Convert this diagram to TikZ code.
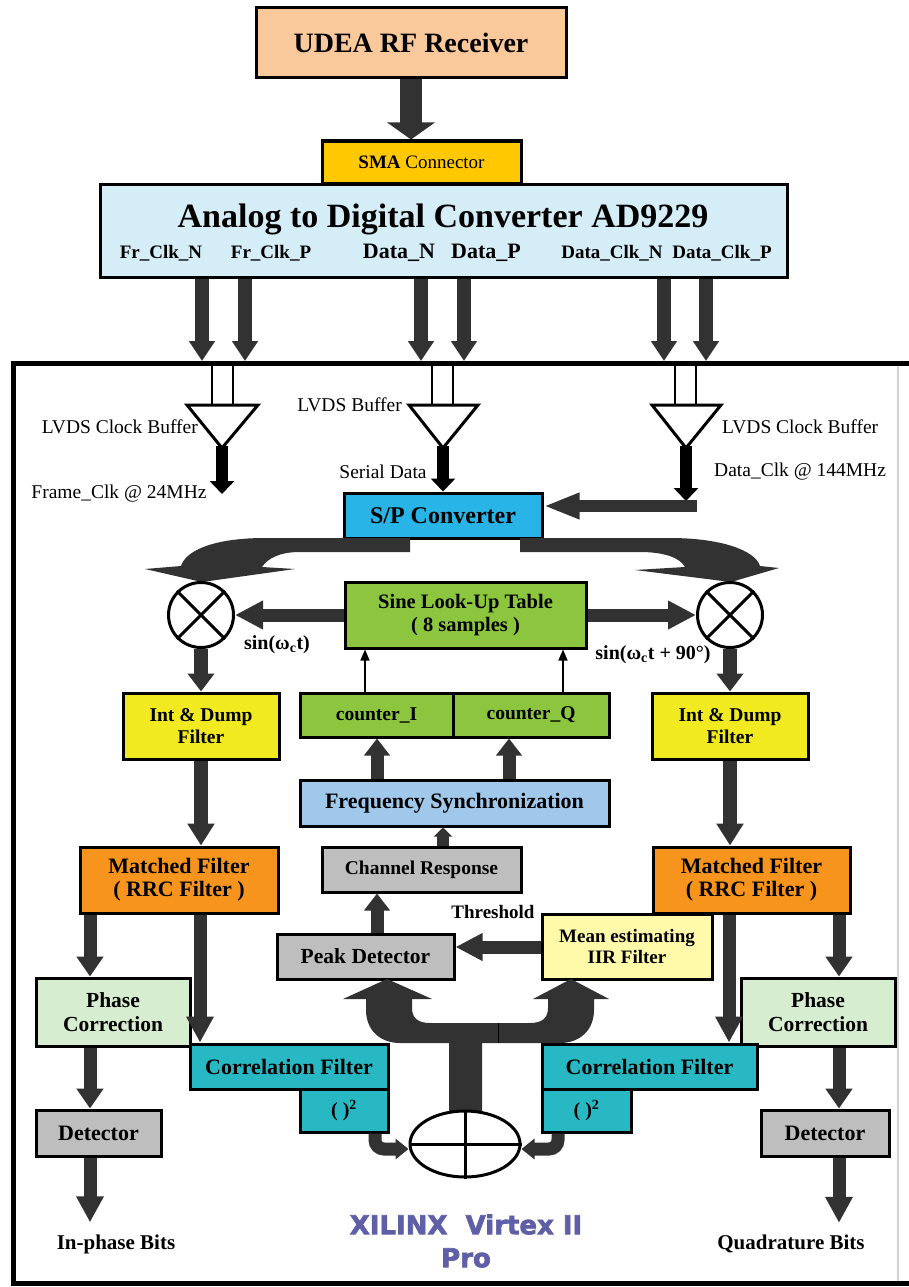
\documentclass[tikz,border=0pt]{standalone}
\usepackage{fontspec}
\setmainfont{Liberation Serif}
\newfontfamily\xfont[FakeBold=2.5]{DejaVu Sans Bold}
\usetikzlibrary{arrows.meta,shapes.geometric,calc}
\definecolor{ag}{RGB}{50,50,50}
\definecolor{cUdea}{RGB}{250,201,155}
\definecolor{cSma}{RGB}{255,200,0}
\definecolor{cAdc}{RGB}{212,237,247}
\definecolor{cSp}{RGB}{40,180,230}
\definecolor{cLut}{RGB}{140,198,63}
\definecolor{cId}{RGB}{242,234,33}
\definecolor{cFs}{RGB}{160,200,235}
\definecolor{cGray}{RGB}{190,190,190}
\definecolor{cMf}{RGB}{247,148,29}
\definecolor{cMean}{RGB}{255,250,170}
\definecolor{cPc}{RGB}{215,237,208}
\definecolor{cCor}{RGB}{40,184,196}
\definecolor{cXil}{RGB}{95,95,168}
\newcommand{\fsz}[1]{\fontsize{#1}{#1}\selectfont}
\tikzset{
  box/.style={draw=black, line width=3pt, inner sep=0pt, align=center},
  fat/.style n args={3}{draw=ag, line width=#1, -{Triangle[width=#2,length=#3]}},
  blk/.style n args={3}{draw=black, line width=#1, -{Triangle[width=#2,length=#3]}},
  thinarr/.style={draw=black, line width=1.5pt, -{Triangle[width=9pt,length=11pt]}},
  lbl/.style={inner sep=0pt, font=\fsz{19.5}},
  blbl/.style={inner sep=0pt, font=\bfseries\fsz{19.5}},
  pinlbl/.style={inner sep=0pt, font=\bfseries\fsz{19}},
}
\begin{document}
\begin{tikzpicture}[x=1pt,y=-1pt]
\useasboundingbox (0,0) rectangle (909,1287);
\fill[white] (0,0) rectangle (909,1287);

% FPGA frame
\draw[gray!35, line width=1.5pt] (898,363) -- (898,1283);
\draw[line width=5pt] (915,363) -- (13,363) -- (13,1283) -- (915,1283);
\coordinate (ftop) at (0,361);

% top chain
\node[box, fill=cUdea, minimum width=310pt, minimum height=70pt, font=\bfseries\fsz{28}] (udea) at (411,43) {UDEA RF Receiver};
\node[box, fill=cSma, minimum width=199pt, minimum height=42pt, font=\fsz{19}] (sma) at (421.5,162) {\textbf{SMA} Connector};
\node[box, fill=cAdc, minimum width=687pt, minimum height=93pt] (adc) at (443.5,230.5) {};
\node[inner sep=0pt, font=\bfseries\fsz{34}] (adct) at (443,219) {Analog to Digital Converter AD9229};
\node[pinlbl] (p1) at (161,253) {Fr\_Clk\_N};
\node[pinlbl] (p2) at (271,253) {Fr\_Clk\_P};
\node[pinlbl, font=\bfseries\fsz{22}] (p3) at (399,253) {Data\_N};
\node[pinlbl, font=\bfseries\fsz{22}] (p4) at (486,253) {Data\_P};
\node[pinlbl] (p5) at (612,253) {Data\_Clk\_N};
\node[pinlbl] (p6) at (722,253) {Data\_Clk\_P};
\draw[fat={22pt}{47pt}{17pt}] (udea.south) -- (udea.south |- sma.north);

\foreach \n/\x in {1/202,2/245,3/421,4/464,5/664,6/706}{
  \coordinate (a\n) at (\x,0);
  \draw[fat={14pt}{25pt}{20pt}] (adc.south -| a\n) -- (a\n |- ftop);
}

% LVDS buffers
\foreach \x in {212,233,432,453,675,696}{
  \draw[line width=2pt] (\x,363) -- (\x,405);
}
\draw[line width=3pt, fill=white] (187,405) -- (258,405) -- (222,448) -- cycle;
\draw[line width=3pt, fill=white] (409,405) -- (478,405) -- (443,448) -- cycle;
\draw[line width=3pt, fill=white] (652,405) -- (721,405) -- (686,448) -- cycle;
\coordinate (bL) at (222,446);
\coordinate (bM) at (443,446);
\coordinate (bR) at (686,446);
\coordinate (fclk) at (222,494);
\coordinate (bRend) at (686,501);
\coordinate (barR) at (697,506);

\node[lbl, anchor=east] (lcb) at (198,427) {LVDS Clock Buffer};
\node[lbl] (fcl) at (119,494) {Frame\_Clk @ 24MHz};
\node[lbl, anchor=east] (lb) at (402,405) {LVDS Buffer};
\node[lbl] (sd) at (383,472) {Serial Data};
\node[lbl, anchor=west] (rcb) at (722,427) {LVDS Clock Buffer};
\node[lbl, anchor=west] (dcl) at (714,472) {Data\_Clk @ 144MHz};

% S/P
\node[box, fill=cSp, minimum width=198pt, minimum height=45pt, font=\bfseries\fsz{24}] (sp) at (443,515.5) {S/P Converter};
\draw[blk={12pt}{24pt}{13pt}] (bL) -- (fclk);
\draw[blk={12pt}{24pt}{13pt}] (bM) -- (bM |- sp.north);
\draw[blk={12pt}{24pt}{13pt}] (bR) -- (bRend);
\draw[fat={12pt}{24pt}{36pt}] (barR) -- (barR -| sp.east);

% swoosh arrows from S/P to mixers
\fill[ag] (410,538) -- (265,538) .. controls (215,538) and (186,550) .. (181,566)
   -- (145,569) -- (202,582) -- (295,569) -- (262,567)
   .. controls (268,558) and (280,552) .. (300,552) -- (410,552) -- cycle;
\fill[ag] (520,538) -- (670,538) .. controls (720,538) and (755,550) .. (760,566)
   -- (779,568) -- (731,582) -- (635,570) -- (685,567)
   .. controls (680,558) and (665,552) .. (640,552) -- (520,552) -- cycle;

% mixers and LUT
\node[box, fill=cLut, minimum width=241pt, minimum height=66pt, font=\bfseries\fsz{20.5}] (lut) at (465.5,615) {Sine Look-Up Table\\[3pt]( 8 samples )};
\node[circle, draw, line width=3pt, fill=white, minimum size=65pt, inner sep=0pt] (mixL) at (201,615) {};
\node[circle, draw, line width=3pt, fill=white, minimum size=65pt, inner sep=0pt] (mixR) at (730,615) {};
\draw[line width=3pt] (mixL.north west) -- (mixL.south east) (mixL.north east) -- (mixL.south west);
\draw[line width=3pt] (mixR.north west) -- (mixR.south east) (mixR.north east) -- (mixR.south west);
\draw[fat={13pt}{27pt}{28pt}] (lut.west) -- (mixL.east);
\draw[fat={13pt}{27pt}{28pt}] (lut.east) -- (mixR.west);
\node[blbl, font=\bfseries\fsz{20}] (sinL) at (277,645) {sin(ω\textsubscript{c}t)};
\node[blbl, font=\bfseries\fsz{20}] (sinR) at (653,655) {sin(ω\textsubscript{c}t + 90°)};

% counters, freq sync
\node[box, fill=cLut, minimum width=153pt, minimum height=44pt, font=\bfseries\fsz{19.5}] (cntI) at (376.5,715) {counter\_I};
\node[box, fill=cLut, minimum width=156pt, minimum height=44pt, font=\bfseries\fsz{19.5}] (cntQ) at (531,715) {counter\_Q};
\coordinate (t1) at (365,0);
\coordinate (t2) at (563,0);
\draw[thinarr] (cntI.north -| t1) -- (t1 |- lut.south);
\draw[thinarr] (cntQ.north -| t2) -- (t2 |- lut.south);
\node[box, fill=cFs, minimum width=309pt, minimum height=46pt, font=\bfseries\fsz{22}] (fs) at (454.5,803) {Frequency Synchronization};
\coordinate (f1) at (377,0);
\coordinate (f2) at (509,0);
\draw[fat={13pt}{25pt}{17pt}] (fs.north -| f1) -- (f1 |- cntI.south);
\draw[fat={13pt}{25pt}{17pt}] (fs.north -| f2) -- (f2 |- cntQ.south);
\node[box, fill=cGray, minimum width=199pt, minimum height=45pt, font=\bfseries\fsz{19.5}] (chan) at (421.5,869.5) {Channel Response};
\coordinate (c1) at (443,0);
\draw[fat={12pt}{18pt}{9pt}] (chan.north -| c1) -- (c1 |- fs.south);

% Int & Dump, matched filters
\node[box, fill=cId, minimum width=156pt, minimum height=66pt, font=\bfseries\fsz{19.5}] (idL) at (201,726) {Int \& Dump\\[2pt]Filter};
\node[box, fill=cId, minimum width=156pt, minimum height=66pt, font=\bfseries\fsz{19.5}] (idR) at (730,726) {Int \& Dump\\[2pt]Filter};
\draw[fat={14pt}{26pt}{18pt}] (mixL.south) -- (idL.north);
\draw[fat={14pt}{26pt}{18pt}] (mixR.south) -- (idR.north);
\node[box, fill=cMf, minimum width=198pt, minimum height=66pt, font=\bfseries\fsz{22}] (mfL) at (179,880) {Matched Filter\\[1pt]( RRC Filter )};
\node[box, fill=cMf, minimum width=197pt, minimum height=66pt, font=\bfseries\fsz{22}] (mfR) at (751.5,880) {Matched Filter\\[1pt]( RRC Filter )};
\draw[fat={14pt}{26pt}{22pt}] (idL.south) -- (idL.south |- mfL.north);
\draw[fat={14pt}{26pt}{22pt}] (idR.south) -- (idR.south |- mfR.north);

% peak / mean
\node[blbl, font=\bfseries\fsz{19}] (thr) at (493,912) {Threshold};
\node[box, fill=cMean, minimum width=170pt, minimum height=65pt, font=\bfseries\fsz{19}] (mean) at (627,946.5) {Mean estimating\\[2pt]IIR Filter};
\node[box, fill=cGray, minimum width=177pt, minimum height=45pt, font=\bfseries\fsz{21.5}] (peak) at (365.5,956.5) {Peak Detector};
\coordinate (k1) at (377,0);
\draw[fat={13pt}{25pt}{17pt}] (peak.north -| k1) -- (k1 |- chan.south);
\coordinate (m1) at (0,947);
\draw[fat={13pt}{26pt}{27pt}] (mean.west |- m1) -- (peak.east |- m1);

% phase correction, correlation, detectors
\node[box, fill=cPc, minimum width=154pt, minimum height=68pt, font=\bfseries\fsz{21.5}] (pcL) at (113,1012) {Phase\\[2pt]Correction};
\node[box, fill=cPc, minimum width=154pt, minimum height=68pt, font=\bfseries\fsz{21.5}] (pcR) at (818,1012) {Phase\\[2pt]Correction};
\node[box, fill=cCor, minimum width=198pt, minimum height=45pt, font=\bfseries\fsz{22}] (corL) at (289,1066.5) {Correlation Filter};
\node[box, fill=cCor, minimum width=215pt, minimum height=45pt, font=\bfseries\fsz{22}] (corR) at (649.5,1066.5) {Correlation Filter};
\node[box, fill=cCor, minimum width=88pt, minimum height=43pt, font=\bfseries\fsz{20}] (sqL) at (344,1110.5) {(\ )\textsuperscript{2}};
\node[box, fill=cCor, minimum width=89pt, minimum height=43pt, font=\bfseries\fsz{20}] (sqR) at (586.5,1110.5) {(\ )\textsuperscript{2}};
\node[box, fill=cGray, minimum width=125pt, minimum height=46pt, font=\bfseries\fsz{22}] (detL) at (98.5,1133) {Detector};
\node[box, fill=cGray, minimum width=128pt, minimum height=46pt, font=\bfseries\fsz{22}] (detR) at (825,1133) {Detector};

\coordinate (l1) at (90,0);
\coordinate (l2) at (200,0);
\coordinate (r1) at (839,0);
\coordinate (r2) at (729,0);
\draw[fat={13pt}{26pt}{20pt}] (mfL.south -| l1) -- (l1 |- pcL.north);
\draw[fat={13pt}{26pt}{26pt}] (mfL.south -| l2) -- (l2 |- corL.north);
\draw[fat={13pt}{26pt}{20pt}] (mfR.south -| r1) -- (r1 |- pcR.north);
\draw[fat={13pt}{26pt}{26pt}] (mfR.south -| r2) -- (r2 |- corR.north);
\draw[fat={13pt}{26pt}{20pt}] (pcL.south -| l1) -- (l1 |- detL.north);
\draw[fat={13pt}{26pt}{20pt}] (pcR.south -| r1) -- (r1 |- detR.north);
\node[blbl, font=\bfseries\fsz{21}] (inb) at (116,1244) {In-phase Bits};
\node[blbl, font=\bfseries\fsz{21}] (qb) at (791,1244) {Quadrature Bits};
\draw[fat={13pt}{26pt}{26pt}] (detL.south -| l1) -- ([yshift=12pt]inb.north -| l1);
\draw[fat={13pt}{26pt}{26pt}] (detR.south -| r1) -- ([yshift=12pt]qb.north -| r1);

% U-shaped double arrow from adder to peak detector and mean estimator
\fill[ag] (387,979) -- (432,999) -- (412,999) -- (412,1008)
  .. controls (412,1018) and (418,1023) .. (430,1023) -- (530,1023)
  .. controls (542,1023) and (548,1018) .. (548,1008) -- (548,999) -- (533,999)
  -- (571,979) -- (609,999) -- (594,999) -- (594,1010)
  .. controls (594,1030) and (580,1043) .. (560,1043) -- (482,1043) -- (482,1112)
  -- (449,1112) -- (449,1043) -- (400,1043)
  .. controls (380,1043) and (366,1030) .. (366,1010) -- (366,999) -- (343,999) -- cycle;
\draw[black, line width=1pt] (498,1023) -- (498,1043);

% adder
\node[ellipse, draw, line width=3pt, fill=white, minimum width=110pt, minimum height=66pt, inner sep=0pt] (add) at (465,1144) {};
\draw[line width=3pt] (add.west) -- (add.east) (add.north) -- (add.south);
\coordinate (q1) at (375,0);
\coordinate (q2) at (558,0);
\draw[fat={13pt}{20pt}{13pt}, rounded corners=9pt] (sqL.south -| q1) |- ([yshift=-5pt]add.west);
\draw[fat={13pt}{20pt}{13pt}, rounded corners=9pt] (sqR.south -| q2) |- ([yshift=-5pt]add.east);

% FPGA label
\node[inner sep=0pt, align=center, text=cXil, font=\xfont\fontsize{26}{33}\selectfont] (xil) at (466,1241) {XILINX\ \ Virtex II\\Pro};
\end{tikzpicture}
\end{document}
